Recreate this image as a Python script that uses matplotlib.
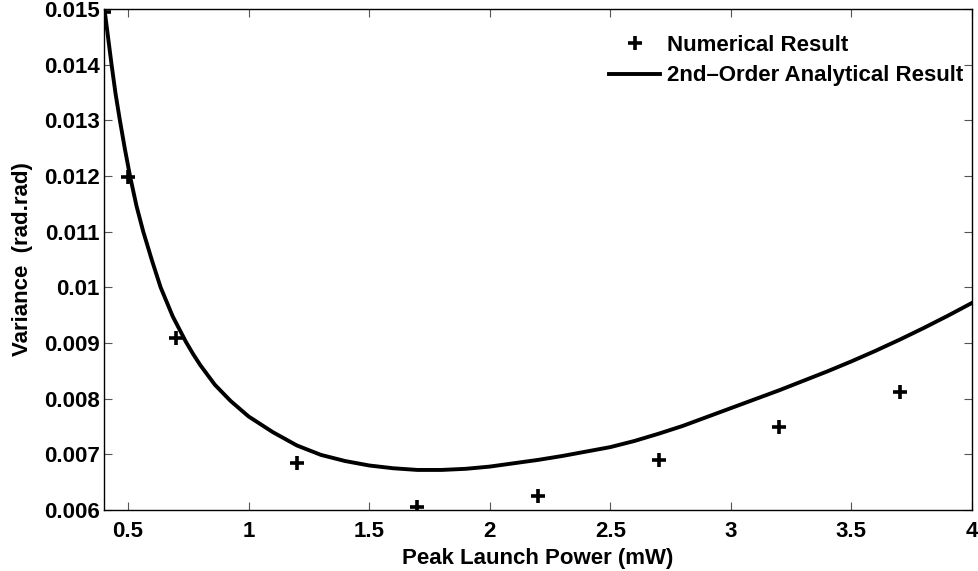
import matplotlib
matplotlib.use('Agg')
import matplotlib.pyplot as plt

plt.rcParams['font.family'] = ['Liberation Sans', 'DejaVu Sans']
plt.rcParams['font.weight'] = 'bold'

# numerical result (markers)
power_num = [0.4, 0.5, 0.7, 1.2, 1.7, 2.2, 2.7, 3.2, 3.7]
var_num = [0.01495, 0.01198, 0.00909, 0.00684, 0.00605, 0.00625, 0.0069, 0.00749, 0.00812]

# 2nd-order analytical result (curve)
power_fit = [0.40, 0.415, 0.4315, 0.448, 0.466, 0.487, 0.508, 0.535, 0.563, 0.60, 0.635,
             0.685, 0.74, 0.77, 0.80, 0.86, 0.925, 1.0, 1.1, 1.2, 1.3, 1.4, 1.5, 1.6, 1.7,
             1.8, 1.9, 2.0, 2.1, 2.2, 2.3, 2.4, 2.5, 2.6, 2.7, 2.8, 2.9, 3.0, 3.1,
             3.2, 3.3, 3.4, 3.5, 3.6, 3.7, 3.8, 3.9, 4.0]
var_fit = [0.01507, 0.01456, 0.0140, 0.01348, 0.0130, 0.01248, 0.0120, 0.01146, 0.0110,
           0.01047, 0.0100, 0.00948, 0.00902, 0.0088, 0.0086, 0.00825, 0.00796, 0.00768,
           0.0074, 0.00716, 0.00699, 0.00688, 0.0068, 0.00675, 0.00672, 0.00672, 0.00674,
           0.00678, 0.00684, 0.0069, 0.00697, 0.00705, 0.00713, 0.00724, 0.00737,
           0.00751, 0.00767, 0.00783, 0.00799, 0.00815, 0.00832, 0.00849, 0.00867,
           0.00886, 0.00906, 0.00927, 0.00949, 0.00972]

fig = plt.figure(figsize=(9.79, 5.71), dpi=100)
ax = fig.add_axes([0.1062, 0.1068, 0.8866, 0.8774])

ax.plot(power_num, var_num, '+', color='black', markersize=10, markeredgewidth=2.6,
        label='Numerical Result')
ax.plot(power_fit, var_fit, '-', color='black', linewidth=2.8,
        label='2nd\u2013Order Analytical Result')

ax.set_xlim(0.4, 4)
ax.set_ylim(0.006, 0.015)
ax.set_xticks([0.5, 1, 1.5, 2, 2.5, 3, 3.5, 4])
ax.set_xticklabels(['0.5', '1', '1.5', '2', '2.5', '3', '3.5', '4'])
ax.set_yticks([0.006, 0.007, 0.008, 0.009, 0.01, 0.011, 0.012, 0.013, 0.014, 0.015])
ax.set_yticklabels(['0.006', '0.007', '0.008', '0.009', '0.01', '0.011', '0.012',
                    '0.013', '0.014', '0.015'])
ax.tick_params(direction='in', length=6, width=0.8, top=True, right=True,
               labelsize=16, color='#555555')
ax.tick_params(axis='x', pad=8)
ax.tick_params(axis='y', pad=3)
for s in ax.spines.values():
    s.set_linewidth(1.0)

ax.set_xlabel('Peak Launch Power (mW)', fontsize=16, fontweight='bold', labelpad=4)
ax.set_ylabel('Variance  (rad.rad)', fontsize=16, fontweight='bold', labelpad=8)

ax.legend(loc='upper right', bbox_to_anchor=(1.0, 0.966), frameon=False, fontsize=16,
          handlelength=2.3, handletextpad=0.3, borderaxespad=0, labelspacing=0.42)

fig.savefig('out.png', dpi=100)
